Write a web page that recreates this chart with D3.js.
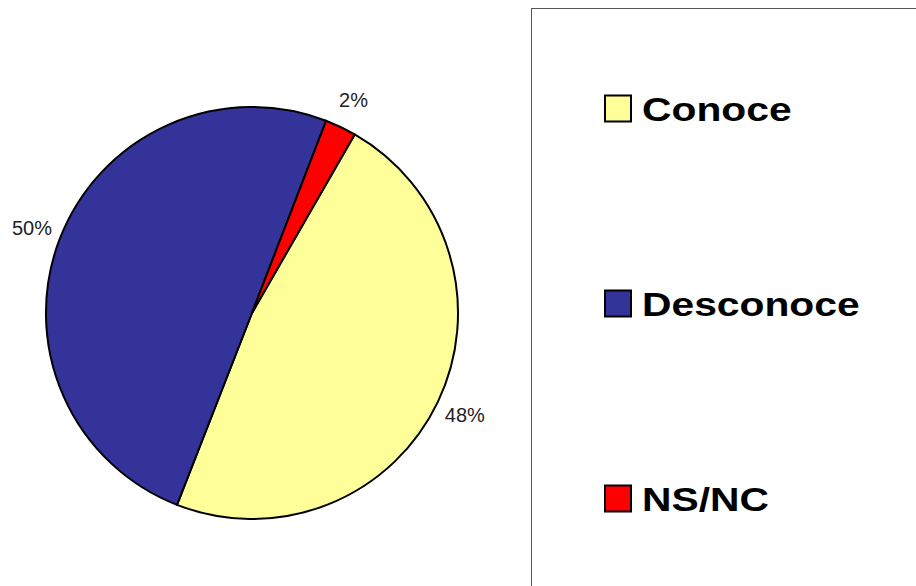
<!DOCTYPE html>
<html>
<head>
<meta charset="utf-8">
<script src="https://cdn.jsdelivr.net/npm/d3@7"></script>
<style>
  body { margin: 0; background: #fff; }
  svg { display: block; }
</style>
</head>
<body>
<div id="chart"></div>
<script>
'use strict';

// data
var categories = ['Conoce', 'Desconoce', 'NS/NC'];
var values = [47.6, 49.9, 2.45];
var colors = ['#FFFF99', '#333399', '#FF0000'];

var width = 916, height = 586;
var cx = 252, cy = 313, radius = 206;
var startDeg = 29.9; // first slice starts here, clockwise from 12 o'clock

var svg = d3.select('#chart').append('svg')
    .attr('width', width)
    .attr('height', height);

var total = d3.sum(values);
var data = categories.map(function(c, i) {
    return { name: c, value: values[i], color: colors[i] };
});

var pie = d3.pie()
    .sort(null)
    .value(function(d) { return d.value; })
    .startAngle(startDeg * Math.PI / 180)
    .endAngle(startDeg * Math.PI / 180 + 2 * Math.PI);

var arc = d3.arc().innerRadius(0).outerRadius(radius);
var labelArc = d3.arc().innerRadius(236).outerRadius(236);

var g = svg.append('g').attr('transform', 'translate(' + cx + ',' + cy + ')');

var arcs = pie(data);

g.selectAll('path.slice')
    .data(arcs)
    .enter().append('path')
    .attr('class', 'slice')
    .attr('d', arc)
    .attr('fill', function(d) { return d.data.color; })
    .attr('stroke', '#000')
    .attr('stroke-width', 2)
    .attr('stroke-linejoin', 'round');

var pct = d3.format('.0%');
g.selectAll('text.lbl')
    .data(arcs)
    .enter().append('text')
    .attr('class', 'lbl')
    .attr('transform', function(d) { return 'translate(' + labelArc.centroid(d) + ')'; })
    .attr('text-anchor', 'middle')
    .attr('dominant-baseline', 'central')
    .attr('font-family', 'Liberation Sans, Arial, sans-serif')
    .attr('font-size', 20)
    .attr('fill', '#222')
    .text(function(d) { return pct(d.data.value / total); });

// legend box (runs off the right and bottom edge)
svg.append('rect')
    .attr('x', 531.5)
    .attr('y', 8.5)
    .attr('width', 420)
    .attr('height', 620)
    .attr('fill', 'none')
    .attr('stroke', '#555')
    .attr('stroke-width', 1);

var legendY = d3.scalePoint()
    .domain(categories)
    .range([108, 498]);

var item = svg.selectAll('g.legend')
    .data(data)
    .enter().append('g')
    .attr('class', 'legend')
    .attr('transform', function(d) { return 'translate(605,' + legendY(d.name) + ')'; });

item.append('rect')
    .attr('x', 0)
    .attr('y', -12.5)
    .attr('width', 26)
    .attr('height', 26)
    .attr('fill', function(d) { return d.color; })
    .attr('stroke', '#000')
    .attr('stroke-width', 2);

item.append('text')
    .attr('transform', 'translate(37,13) scale(1.2,1)')
    .attr('font-family', 'Liberation Sans, Arial, sans-serif')
    .attr('font-weight', 'bold')
    .attr('font-size', 34)
    .attr('fill', '#000')
    .text(function(d) { return d.name; });
</script>
</body>
</html>
